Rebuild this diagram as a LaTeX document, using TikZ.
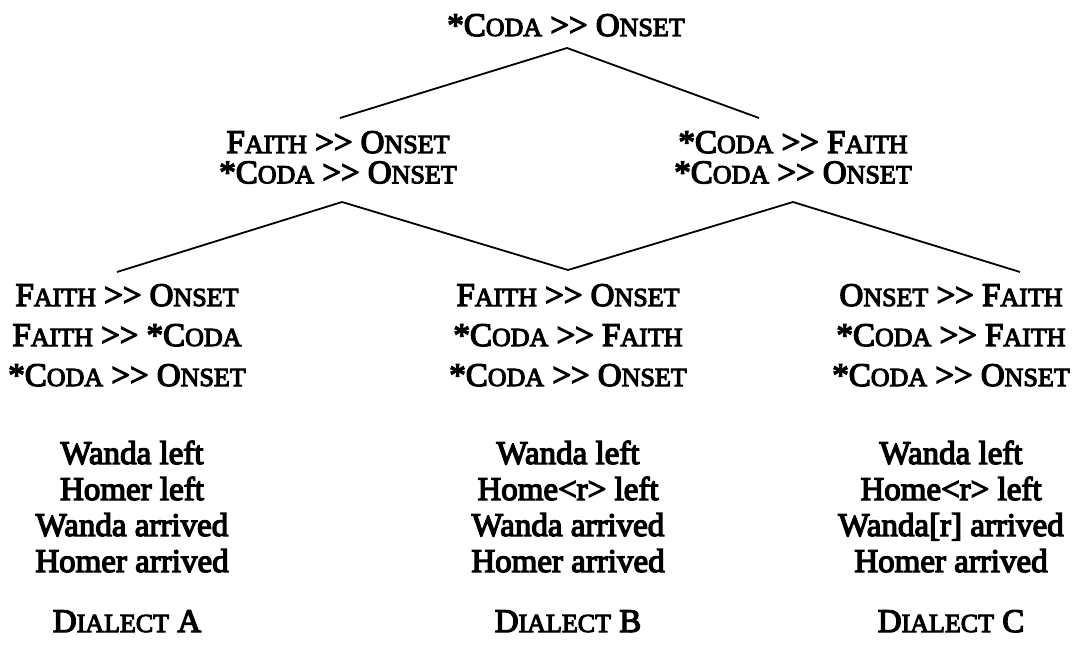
\documentclass[tikz,border=0pt]{standalone}
\usepackage{fontspec}
\setmainfont[FakeBold=4]{Liberation Serif}
\usetikzlibrary{calc}
\newcommand\sca[1]{{\fontsize{26}{26}\selectfont #1}}
\newcommand\grt{>{}>}
\newcommand\cd{*C\sca{ODA}}
\newcommand\fa{F\sca{AITH}}
\newcommand\on{O\sca{NSET}}
\newcommand\rows[1]{\begin{tabular}[t]{@{}c@{}}#1\end{tabular}}
\tikzset{
  base/.style={anchor=base, inner sep=0pt},
  lvtwo/.style={base, font=\fontsize{33}{28}\selectfont},
  lvthree/.style={base, font=\fontsize{33}{40}\selectfont},
  sent/.style={base, font=\fontsize{33}{36}\selectfont},
  lbl/.style={base, font=\fontsize{33}{36}\selectfont},
  branch/.style={line width=1.8pt, line join=round}
}
\begin{document}
\begin{tikzpicture}[x=1pt,y=-1pt]
\useasboundingbox (0,0) rectangle (1078,660);
% nodes
\node[lbl] (top) at (566,36) {\cd{} \grt{} \on};
\node[lvtwo] (l2a) at (338,153) {\rows{\fa{} \grt{} \on\\\cd{} \grt{} \on}};
\node[lvtwo] (l2b) at (793,153) {\rows{\cd{} \grt{} \fa\\\cd{} \grt{} \on}};
\node[lvthree] (l3a) at (127,306) {\rows{\fa{} \grt{} \on\\\fa{} \grt{} \cd\\\cd{} \grt{} \on}};
\node[lvthree] (l3b) at (568,306) {\rows{\fa{} \grt{} \on\\\cd{} \grt{} \fa\\\cd{} \grt{} \on}};
\node[lvthree] (l3c) at (951,306) {\rows{\on{} \grt{} \fa\\\cd{} \grt{} \fa\\\cd{} \grt{} \on}};
\node[sent] (sa) at (132,464) {\rows{Wanda left\\Homer left\\Wanda arrived\\Homer arrived}};
\node[sent] (sb) at (568,464) {\rows{Wanda left\\Home<r> left\\Wanda arrived\\Homer arrived}};
\node[sent] (sc) at (951,464) {\rows{Wanda left\\Home<r> left\\Wanda[r] arrived\\Homer arrived}};
\node[lbl] (da) at (127,632) {D\sca{IALECT} A};
\node[lbl] (db) at (568,632) {D\sca{IALECT} B};
\node[lbl] (dc) at (951,632) {D\sca{IALECT} C};
% connector points
\coordinate (ta) at ($(top.base)+(1,12)$);
\coordinate (ua) at ($(l2a.base)+(2,-35)$);
\coordinate (ub) at ($(l2b.base)+(-34,-35)$);
\coordinate (pa) at ($(l2a.base)+(4,49)$);
\coordinate (pb) at ($(l2b.base)+(0,49)$);
\coordinate (qa) at ($(l3a.base)+(-10,-34)$);
\coordinate (qb) at ($(l3b.base)+(0,-36)$);
\coordinate (qc) at ($(l3c.base)+(69,-34)$);
% connectors
\draw[branch] (ua) -- (ta) -- (ub);
\draw[branch] (qa) -- (pa) -- (qb) -- (pb) -- (qc);
\end{tikzpicture}
\end{document}
